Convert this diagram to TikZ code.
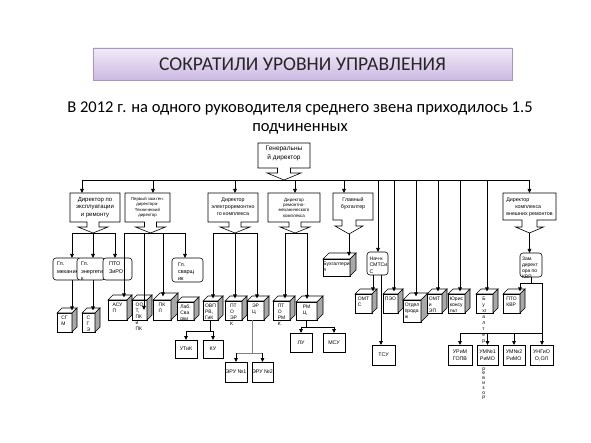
\documentclass[tikz,border=0pt]{standalone}
\usepackage{fontspec}
\setmainfont{Carlito}
\newfontfamily\lsans{Liberation Sans}
\usetikzlibrary{arrows.meta,shadows}
\definecolor{tTop}{RGB}{241,235,248}
\definecolor{tBot}{RGB}{204,185,226}
\definecolor{tBorder}{RGB}{170,148,198}
\definecolor{cside}{RGB}{168,168,168}
\newcommand\fsz[2]{\lsans\fontsize{#1}{#2}\selectfont}
\tikzset{
  x=1pt, y=-1pt,
  every node/.style={inner sep=0pt, outer sep=0pt},
  conn/.style={line width=0.75pt},
  arr/.style={conn, -{Triangle[length=4pt,width=3.6pt]}},
  bx/.style={draw, line width=0.6pt, fill=white},
  rbx/.style={bx, rounded corners=3pt},
  bb/.style={bx, font=\fsz{5.3}{7}, align=center},
  ct/.style={font=\fsz{5}{6}, align=left},
  rt/.style={font=\fsz{5.5}{7.3}, align=left},
}
% \bxn[style]{name}{x1}{y1}{x2}{y2}{text}
\newcommand\bxn[7][bx]{\node[#1, minimum width={#5-#3}, minimum height={#6-#4}] (#2) at ({(#3+#5)/2},{(#4+#6)/2}) {#7};}
% \cubeb{name}{x1}{y1}{x2}{y2}{depth}{text}
\newcommand\cubeb[7]{%
 \bxn{#1}{#2}{#3}{#4}{#5}{}
 \draw[bx] (#1.north west) -- ++(#6,-#6) -- ([shift={(#6,-#6)}]#1.north east) -- (#1.north east) -- cycle;
 \draw[bx, fill=cside] (#1.north east) -- ([shift={(#6,-#6)}]#1.north east) -- ([shift={(#6,-#6)}]#1.south east) -- (#1.south east) -- cycle;
 \node[ct, anchor=north] (#1t) at ([yshift=-3pt]#1.north) {#7};
 \coordinate (#1top) at ([shift={(#6/2,-#6/2)}]#1.north);}
% \callout{name}{offset}{shaft half}{head half}{shaft len}{head len}
\newcommand\callout[6]{%
 \draw[line width=0.6pt] (#1.north west) -- (#1.north east) -- (#1.south east) -- ([xshift={#2+#3}]#1.south) -- ++(0,#5) -- ++({#4-#3},0) -- ++(-#4,#6) coordinate (#1tip) -- ++(-#4,-#6) -- ++({#4-#3},0) -- ++(0,-#5) -- (#1.south west) -- cycle;}
\begin{document}
\begin{tikzpicture}
\fill[white] (0,0) rectangle (591,443);
\useasboundingbox (0,0) rectangle (591,443);

% title and subtitle
\node[draw=tBorder, line width=0.6pt, top color=tTop, bottom color=tBot, minimum width=419, minimum height=32,
      drop shadow={opacity=0.25,shadow xshift=1.2pt,shadow yshift=-1.5pt},
      font=\fontsize{19.5}{21}\selectfont, text=black!85] (title) at (302.5,64) {СОКРАТИЛИ УРОВНИ УПРАВЛЕНИЯ};
\node[font=\fontsize{16.5}{19.5}\selectfont, align=center] (sub) at (300,118)
  {В 2012 г. на одного руководителя среднего звена приходилось 1.5\\подчиненных};

% general director
\bxn[draw=none]{gd}{258}{143}{310}{168}{}
\callout{gd}{0}{6.5}{17}{5}{7}
\node[font=\fsz{6.5}{9}, align=center, anchor=north] (gdt) at ([yshift=-3pt]gd.north) {Генеральны\\й директор};

% level 1
\bxn[draw=none]{d1}{70}{193}{120}{222}{}
\callout{d1}{-2}{6}{15}{5}{6}
\node[font=\fsz{6}{7.8}, align=center, anchor=north] (d1t) at ([yshift=-4pt]d1.north) {Директор по\\эксплуатации\\и ремонту};

\bxn[draw=none]{d2}{125}{193}{170}{222}{}
\callout{d2}{3}{6}{15}{5}{6}
\node[font=\fsz{4.3}{5.3}, align=center, anchor=north] (d2t) at ([yshift=-4.5pt]d2.north) {Первый зам.ген.\\директора-\\Технический\\директор};

\bxn[draw=none]{d3}{208}{193}{258}{222}{}
\callout{d3}{2}{6}{15}{5}{6}
\node[font=\fsz{5.3}{7}, align=center, anchor=north] (d3t) at ([yshift=-5pt]d3.north) {Директор\\электроремонтно\\го комплекса};

\bxn[draw=none]{d4}{268}{193}{320}{222}{}
\callout{d4}{1}{6}{15}{5}{6}
\node[font=\fsz{4.5}{5.4}, align=center, anchor=north] (d4t) at ([yshift=-5pt]d4.north) {Директор\\ремонтно-\\механического\\комплекса};

\bxn[draw=none]{gb}{333}{193}{373}{220}{}
\callout{gb}{-4}{7}{14}{6}{8}
\node[font=\fsz{5.3}{7}, align=center, anchor=north] (gbt) at ([yshift=-5pt]gb.north) {Главный\\бухгалтер};

\bxn[draw=none]{dk}{503}{193}{556}{220}{}
\callout{dk}{0}{7.5}{14}{7}{6}
\node[font=\fsz{5.3}{7}, align=left, anchor=north] (dkt) at ([yshift=-5pt]dk.north) {Директор\\\hspace*{9pt}комплекса\\внешних ремонтов};

% rounded boxes
\bxn[rbx]{gm}{53}{258}{82}{280}{}
\node[rt, anchor=north west] (gmt) at ([shift={(4,4)}]gm.north west) {Гл.\\механик};
\bxn[rbx]{ge}{77}{258}{105}{280}{}
\node[rt, anchor=north west] (get) at ([shift={(4,4)}]ge.north west) {Гл.\\энергети\\к};
\bxn[rbx]{pz}{103}{258}{132}{280}{}
\node[rt, anchor=north west] (pzt) at ([shift={(6,4)}]pz.north west) {ПТО\\ЗиРО};
\bxn[rbx]{gs}{172}{258}{203}{282}{}
\node[rt, anchor=north west] (gst) at ([shift={(6,4.5)}]gs.north west) {Гл.\\сварщ\\ик};
\bxn[rbx]{nach}{367}{252}{388}{275}{}
\node[font=\fsz{5.2}{6.6}, align=left, anchor=north west] (nacht) at ([shift={(2.5,4.5)}]nach.north west) {Нач-к\\СМТСи\\С};
\bxn[rbx]{zam}{520}{253}{542}{277}{}
\node[font=\fsz{5}{6.1}, align=left, anchor=north west] (zamt) at ([shift={(2,4)}]zam.north west) {Зам.\\директ\\ора по\\КВР};

% cubes
\cubeb{sgm}{57}{313}{72}{332}{5}{СГ\\М}
\cubeb{sge}{82}{313}{95}{332}{5}{С\\Г\\Э}
\cubeb{asup}{108}{300}{127}{320}{5}{АСУ\\П}
\cubeb{oot}{132}{300}{147}{320}{5}{ОО\\Т,\\ПК\\и\\ПК}
\cubeb{pkl}{153}{300}{171}{320}{7}{ПК\\Л}
\cubeb{lab}{177}{302}{194}{320}{5}{Лаб.\\Сва\\рки}
\cubeb{ovp}{203}{301}{218}{320}{5}{ОВП\\РВ,\\ГиК}
\cubeb{ptoe}{225}{301}{242}{320}{5}{ПТ\\О\\ЭР\\К}
\cubeb{erc}{247}{301}{264}{320}{5}{ЭР\\Ц}
\cubeb{ptom}{273}{301}{290}{320}{5}{ПТ\\О\\РМ\\К}
\cubeb{rmc}{296}{302}{317}{320}{6}{РМ\\Ц}
\cubeb{buh}{323}{259}{350}{276}{6}{Бухгалтери\\я}
\cubeb{omtc}{355}{294}{372}{313}{5}{ОМТ\\С}
\cubeb{peo}{383}{294}{398}{313}{5}{ПЭО}
\cubeb{otd}{403}{300}{421}{322}{7}{Отдел\\прода\\ж}
\cubeb{omte}{427}{294}{442}{313}{5}{ОМТ\\и\\ЭП}
\cubeb{yur}{448}{294}{465}{313}{5}{Юрис\\консу\\льт}
\cubeb{bur}{476}{294}{493}{313}{5}{\fontsize{5}{4.8}\selectfont Б\\у\\хг\\а\\л\\т\\е\\р\\-}
\cubeb{ptok}{503}{294}{520}{313}{5}{ПТО\\КВР}

% bottom boxes
\bxn[bb]{utk}{175}{340}{197}{358}{УТиК}
\bxn[bb]{ku}{203}{340}{223}{358}{КУ}
\bxn[bb]{eru1}{225}{362}{247}{382}{ЭРУ №1}
\bxn[bb]{eru2}{252}{362}{273}{382}{ЭРУ №2}
\bxn[bb]{lu}{290}{333}{312}{352}{ЛУ}
\bxn[bb]{msu}{323}{333}{345}{352}{МСУ}
\bxn[bb]{tsu}{372}{345}{395}{365}{ТСУ}
\bxn[bb]{urim}{448}{345}{472}{365}{УРиМ\\ГОПВ}
\bxn[bb]{um1}{477}{345}{498}{365}{УМ№1\\РиМО}
\bxn[bb]{um2}{503}{345}{525}{365}{УМ№2\\РиМО}
\bxn[bb]{ung}{530}{345}{553}{365}{УНГиО\\О,ОЛ}
\node[ct, font=\fsz{5}{4.8}, anchor=north west] (burt2) at ([yshift=-2.5pt]burt.west |- um1.south) {р\\е\\в\\и\\з\\о\\р};

% bus
\coordinate (busL) at (82,180);
\coordinate (busR) at (529.5,180);
\draw[conn] (busL) -- (busR);
\draw[arr] (busL) -- (busL |- d1.north);
\coordinate (b2) at (153,180);
\draw[arr] (b2) -- (b2 |- d2.north);
\coordinate (b3) at (235,180);
\draw[arr] (b3) -- (b3 |- d3.north);
\coordinate (b4) at (295,180);
\draw[arr] (b4) -- (b4 |- d4.north);
\coordinate (b5) at (344,180);
\draw[arr] (b5) -- (b5 |- gb.north);
\coordinate (b6) at (378,180);
\draw[arr] (b6) -- (b6 |- nach.north);
\coordinate (b7) at (394,180);
\draw[arr] (b7) -- (b7 |- peotop);
\coordinate (b8) at (416,180);
\draw[arr] (b8) -- (b8 |- otdtop);
\coordinate (b9) at (438,180);
\draw[arr] (b9) -- (b9 |- omtetop);
\coordinate (b10) at (460,180);
\draw[arr] (b10) -- (b10 |- yurtop);
\coordinate (b11) at (487,180);
\draw[arr] (b11) -- (b11 |- burtop);
\draw[arr] (busR) -- (busR |- dk.north);

% director 1 group
\coordinate (j1a) at (72,233);
\coordinate (j1c) at (115,233);
\draw[conn] (j1a) -- (j1c);
\draw[arr] (j1a) -- (j1a |- gm.north);
\draw[arr] (d1tip) -- (d1tip |- ge.north);
\draw[arr] (j1c) -- (j1c |- pz.north);
\draw[arr] (j1a |- gm.south) -- (j1a |- sgmtop);
\draw[arr] (d1tip |- ge.south) -- (d1tip |- sgetop);

% director 2 group
\coordinate (j2a) at (124,233);
\coordinate (j2b) at (144,233);
\coordinate (j2c) at (163,233);
\coordinate (j2d) at (185,233);
\draw[conn] (j2a) -- (j2d);
\draw[arr] (j2a) -- (j2a |- asuptop);
\draw[arr] (j2b) -- (j2b |- oot.center);
\draw[arr] (j2c) -- (j2c |- pkltop);
\draw[arr] (j2d) -- (j2d |- gs.north);

% director 3 group
\coordinate (j3a) at (213,233);
\coordinate (j3c) at (257,233);
\draw[conn] (j3a) -- (j3c);
\draw[arr] (j3a) -- (j3a |- ovptop);
\draw[arr] (d3tip) -- (d3tip |- ptoetop);
\draw[arr] (j3c) -- (j3c |- erctop);

% director 4 group
\coordinate (j4a) at (285,233);
\coordinate (j4b) at (307,233);
\draw[conn] (j4a) -- (j4b);
\draw[arr] (j4a) -- (j4a |- ptomtop);
\draw[arr] (j4b) -- (j4b |- rmctop);

% chief accountant
\draw[arr] (gbtip) -- (gbtip |- buhtop);

% supply chief
\coordinate (n1) at ([xshift=-4.5pt]nach.south);
\coordinate (n2) at ([xshift=3.5pt]nach.south);
\draw[arr] (n1) -- (n1 |- omtctop);
\draw[arr] (n2) -- (n2 |- tsu.north);

% external repairs
\draw[arr] (dktip) -- (dktip |- zam.north);
\coordinate (zL) at (520,283);
\coordinate (zR) at (542,283);
\draw[conn] (zam.south) -- (zam.south |- zL);
\draw[conn] (zL) -- (zR);
\draw[arr] (zL) -- (zL |- ptoktop);
\draw[arr] (zR) -- (zR |- ung.north);
\coordinate (uL) at (460,333);
\draw[conn] (uL) -- (zR |- uL);
\draw[arr] (uL) -- (uL |- urim.north);
\draw[arr] (um1.north |- uL) -- (um1.north);
\draw[arr] (um2.north |- uL) -- (um2.north);

% OVP
\coordinate (o1) at (ovp.south |- 0,331);
\draw[conn] (ovp.south) -- (o1);
\draw[conn] (utk.north |- o1) -- (ku.north |- o1);
\draw[arr] (utk.north |- o1) -- (utk.north);
\draw[arr] (ku.north |- o1) -- (ku.north);

% ERC
\coordinate (e0) at ([xshift=-3.5pt]erc.south);
\coordinate (e1) at (e0 |- 0,353);
\draw[conn, gray, line width=0.6pt] (e0) -- (e1);
\draw[conn, gray, line width=0.6pt] (eru1.north |- e1) -- (eru2.north |- e1);
\draw[arr] (eru1.north |- e1) -- (eru1.north);
\draw[arr] (eru2.north |- e1) -- (eru2.north);

% RMC
\coordinate (r1) at (rmc.south |- 0,327);
\draw[conn] (rmc.south) -- (r1);
\draw[conn] (lu.north |- r1) -- (msu.north |- r1);
\draw[arr] (lu.north |- r1) -- (lu.north);
\draw[arr] (msu.north |- r1) -- (msu.north);
\end{tikzpicture}
\end{document}
